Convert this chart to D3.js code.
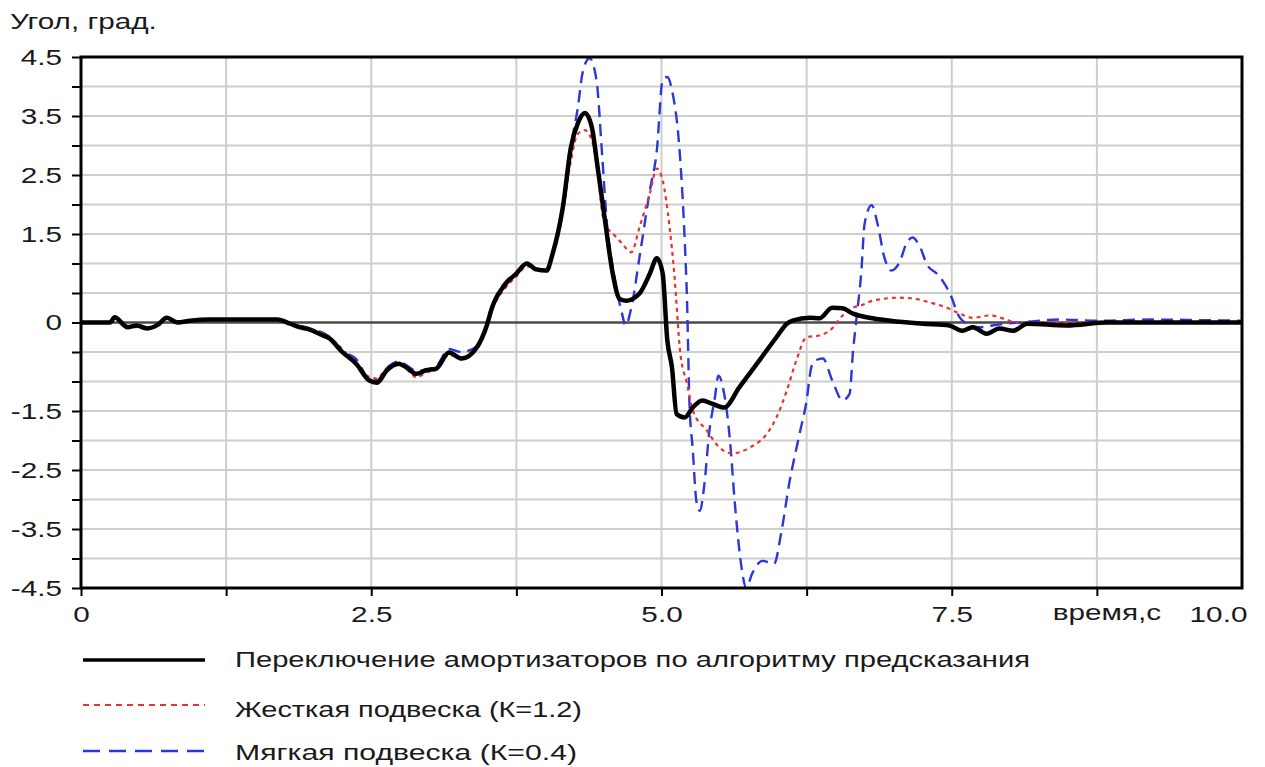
<!DOCTYPE html>
<html lang="ru">
<head>
<meta charset="UTF-8">
<title>Угол, град.</title>
<script src="https://d3js.org/d3.v7.min.js"></script>
<style>
    body { margin: 0; background: #fff; }
    svg { display: block; font-family: 'Liberation Sans', Arial, sans-serif; }
    .axis path { display: none; }
    .axis line { stroke: #000; stroke-width: 2; }
    .axis text { font-size: 22px; fill: #1a1a1a; }
    .grid { stroke: #cecece; stroke-width: 2; }
    .label { font-size: 22px; fill: #1a1a1a; }
</style>
</head>
<body>
<svg id="chart" width="1265" height="767"></svg>
<script>
// [time, angle]
var switchingData = [[0,0],[0.25,0],[0.29,0.09],[0.40,-0.08],[0.48,-0.05],[0.57,-0.1],[0.66,-0.04],[0.74,0.08],[0.83,0.0],[0.94,0.03],[1.11,0.05],[1.69,0.05],[1.80,-0.02],[1.88,-0.08],[1.97,-0.12],[2.06,-0.2],[2.14,-0.27],[2.25,-0.5],[2.37,-0.7],[2.48,-0.98],[2.55,-1.02],[2.63,-0.82],[2.74,-0.7],[2.80,-0.76],[2.89,-0.87],[2.97,-0.81],[3.06,-0.78],[3.17,-0.51],[3.28,-0.61],[3.41,-0.42],[3.49,-0.08],[3.54,0.25],[3.66,0.66],[3.75,0.83],[3.84,1.0],[3.92,0.9],[4.01,0.88],[4.06,1.15],[4.15,1.95],[4.22,2.97],[4.28,3.38],[4.34,3.55],[4.40,3.31],[4.45,2.63],[4.51,1.78],[4.58,0.83],[4.64,0.4],[4.70,0.37],[4.81,0.49],[4.90,0.83],[4.96,1.09],[5.01,0.83],[5.05,-0.3],[5.09,-0.76],[5.13,-1.55],[5.20,-1.61],[5.27,-1.44],[5.35,-1.32],[5.44,-1.38],[5.54,-1.44],[5.67,-1.1],[5.84,-0.65],[5.99,-0.25],[6.08,-0.02],[6.13,0.03],[6.28,0.08],[6.36,0.07],[6.47,0.25],[6.56,0.24],[6.65,0.15],[6.79,0.08],[6.97,0.03],[7.25,-0.02],[7.48,-0.05],[7.59,-0.14],[7.68,-0.08],[7.80,-0.19],[7.91,-0.1],[8.03,-0.14],[8.15,-0.02],[8.49,-0.05],[8.84,0],[10,0]];

var stiffData = [[0,0],[0.25,0.0],[0.29,0.07],[0.40,-0.06],[0.48,-0.08],[0.57,-0.12],[0.66,-0.02],[0.74,0.06],[0.83,0.01],[0.94,0.03],[1.11,0.04],[1.69,0.05],[1.80,-0.02],[1.97,-0.1],[2.14,-0.25],[2.25,-0.45],[2.37,-0.72],[2.48,-0.92],[2.55,-0.95],[2.63,-0.78],[2.74,-0.72],[2.80,-0.78],[2.89,-0.93],[2.97,-0.85],[3.06,-0.8],[3.17,-0.55],[3.28,-0.6],[3.41,-0.45],[3.49,-0.12],[3.54,0.2],[3.66,0.6],[3.75,0.78],[3.84,0.95],[3.92,0.92],[4.01,0.88],[4.06,1.1],[4.15,1.85],[4.22,2.75],[4.28,3.2],[4.34,3.26],[4.40,3.09],[4.45,2.55],[4.49,1.85],[4.53,1.62],[4.58,1.51],[4.66,1.34],[4.74,1.19],[4.81,1.61],[4.90,2.19],[4.96,2.61],[5.01,2.41],[5.07,1.61],[5.11,0.83],[5.16,-0.48],[5.22,-1.04],[5.27,-1.49],[5.39,-1.83],[5.50,-2.12],[5.61,-2.22],[5.76,-2.12],[5.91,-1.88],[5.99,-1.61],[6.08,-1.15],[6.16,-0.65],[6.25,-0.25],[6.36,-0.22],[6.47,-0.1],[6.56,0.12],[6.65,0.25],[6.72,0.29],[6.82,0.37],[7.05,0.42],[7.16,0.41],[7.31,0.34],[7.46,0.25],[7.57,0.15],[7.68,0.08],[7.83,0.12],[7.94,0.07],[8.06,0],[10,0]];

var softData = [[0,0],[0.25,0.01],[0.29,0.08],[0.40,-0.05],[0.48,-0.07],[0.57,-0.1],[0.66,-0.03],[0.74,0.07],[0.83,0.02],[0.94,0.03],[1.11,0.05],[1.69,0.05],[1.80,-0.01],[1.97,-0.1],[2.14,-0.24],[2.25,-0.48],[2.37,-0.62],[2.48,-0.95],[2.55,-0.98],[2.63,-0.78],[2.74,-0.66],[2.80,-0.72],[2.89,-0.82],[2.97,-0.8],[3.06,-0.74],[3.17,-0.45],[3.28,-0.5],[3.41,-0.4],[3.49,-0.05],[3.54,0.28],[3.66,0.7],[3.75,0.85],[3.84,1.0],[3.92,0.9],[4.01,0.88],[4.06,1.15],[4.15,2.0],[4.22,3.0],[4.28,3.65],[4.32,4.23],[4.38,4.48],[4.44,4.11],[4.49,2.8],[4.53,1.68],[4.59,0.83],[4.66,0.15],[4.69,-0.05],[4.74,0.25],[4.81,1.1],[4.90,2.24],[4.96,2.92],[5.01,4.11],[5.05,4.16],[5.09,3.94],[5.16,2.8],[5.20,1.39],[5.22,0.37],[5.24,-1.32],[5.27,-2.17],[5.30,-3.02],[5.33,-3.19],[5.37,-2.73],[5.41,-1.88],[5.46,-1.27],[5.49,-0.9],[5.54,-1.21],[5.59,-2.0],[5.63,-3.02],[5.69,-4.16],[5.73,-4.5],[5.78,-4.26],[5.87,-4.04],[5.97,-4.09],[6.03,-3.58],[6.10,-2.73],[6.19,-1.88],[6.25,-1.32],[6.29,-0.76],[6.32,-0.65],[6.39,-0.61],[6.47,-0.98],[6.56,-1.32],[6.62,-1.21],[6.65,-0.48],[6.68,0.08],[6.72,0.83],[6.75,1.68],[6.81,1.99],[6.86,1.68],[6.92,1.1],[6.98,0.88],[7.05,1.02],[7.11,1.34],[7.16,1.44],[7.22,1.31],[7.29,0.97],[7.37,0.83],[7.42,0.71],[7.50,0.42],[7.55,0.15],[7.63,-0.02],[7.74,-0.08],[7.85,-0.05],[7.97,-0.02],[8.09,0],[8.43,0.05],[8.78,0.03],[9.21,0.05],[9.66,0.04],[10,0.03]];

var yTickValues = [4.5, 3.5, 2.5, 1.5, 0, -1.5, -2.5, -3.5, -4.5];
var yTickLabels = ["4.5", "3.5", "2.5", "1.5", "0", "-1.5", "-2.5", "-3.5", "-4.5"];
var yGridValues = [-4, -3.5, -3, -2.5, -2, -1.5, -1, -0.5, 0.5, 1, 1.5, 2, 2.5, 3, 3.5, 4];
var xTickValues = [0, 2.5, 5, 7.5, 10];
var xTickLabels = ["0", "2.5", "5.0", "7.5", "10.0"];
var xGridValues = [1.25, 2.5, 3.75, 5, 6.25, 7.5, 8.75];
var legendLabels = ["Переключение амортизаторов по алгоритму предсказания", "Жесткая подвеска (К=1.2)", "Мягкая подвеска (К=0.4)"];

var svg = d3.select("#chart");
var plot = {left: 81, right: 1242, top: 57, bottom: 588};
var x = d3.scaleLinear().domain([0, 10]).range([plot.left, plot.right]);
var y = d3.scaleLinear().domain([-4.5, 4.5]).range([plot.bottom, plot.top]);

// the picture is stretched sideways, so text is too
var sx = 1.35;
function stretch(sel) {
    sel.each(function() {
        var t = d3.select(this), tx = +t.attr("x") || 0, ty = +t.attr("y") || 0;
        t.attr("transform", "translate(" + tx + "," + ty + ") scale(" + sx + ",1) translate(" + (-tx) + "," + (-ty) + ")");
    });
}

svg.append("rect").attr("width", 1265).attr("height", 767).attr("fill", "#fff");

// grid
svg.selectAll(".hgrid").data(yGridValues).enter().append("line").attr("class", "grid")
    .attr("x1", plot.left).attr("x2", plot.right).attr("y1", function(d) { return y(d); }).attr("y2", function(d) { return y(d); });
svg.selectAll(".vgrid").data(xGridValues).enter().append("line").attr("class", "grid")
    .attr("stroke-width", 1.5)
    .attr("x1", function(d) { return x(d); }).attr("x2", function(d) { return x(d); }).attr("y1", plot.top).attr("y2", plot.bottom);

// zero line
svg.append("line").attr("x1", plot.left).attr("x2", plot.right).attr("y1", y(0)).attr("y2", y(0))
    .attr("stroke", "#4a4a4a").attr("stroke-width", 2.5);

// ticks
svg.append("g").attr("class", "axis").attr("transform", "translate(" + plot.left + ",0)")
    .call(d3.axisLeft(y).tickValues(yGridValues.concat([4.5, 0, -4.5])).tickSize(9).tickFormat(""));
svg.append("g").attr("class", "axis").attr("transform", "translate(0," + plot.bottom + ")")
    .call(d3.axisBottom(x).tickValues(xGridValues.concat([0])).tickSize(8).tickFormat(""));

// labels
var yAxis = svg.append("g").attr("class", "axis").attr("transform", "translate(" + plot.left + ",0)")
    .call(d3.axisLeft(y).tickValues(yTickValues).tickSize(0).tickPadding(19)
        .tickFormat(function(d, i) { return yTickLabels[i]; }));
stretch(yAxis.selectAll("text"));

var xAxis = svg.append("g").attr("class", "axis").attr("transform", "translate(0," + plot.bottom + ")")
    .call(d3.axisBottom(x).tickValues(xTickValues).tickSize(0).tickPadding(18)
        .tickFormat(function(d, i) { return xTickLabels[i]; }));
xAxis.selectAll("text").filter(function(d) { return d === 10; }).attr("x", -24);
stretch(xAxis.selectAll("text"));

var xLabel = svg.append("text").attr("class", "label").attr("x", x(8.75) + 10).attr("y", 620)
    .attr("text-anchor", "middle").text("время,с");
stretch(xLabel);

var title = svg.append("text").attr("class", "label").attr("x", 10).attr("y", 29).text("Угол, град.");
stretch(title);

// curves
var line = d3.line().x(function(d) { return x(d[0]); }).y(function(d) { return y(d[1]); }).curve(d3.curveMonotoneX);

svg.append("path").datum(softData).attr("d", line).attr("fill", "none")
    .attr("stroke", "#2b37d8").attr("stroke-width", 2.4).attr("stroke-dasharray", "12,7");
svg.append("path").datum(stiffData).attr("d", line).attr("fill", "none")
    .attr("stroke", "#e8332f").attr("stroke-width", 2.2).attr("stroke-dasharray", "4,4");
svg.append("path").datum(switchingData).attr("d", line).attr("fill", "none")
    .attr("stroke", "#000").attr("stroke-width", 4.5);

// frame
svg.append("rect").attr("x", plot.left).attr("y", plot.top)
    .attr("width", plot.right - plot.left).attr("height", plot.bottom - plot.top)
    .attr("fill", "none").attr("stroke", "#000").attr("stroke-width", 3);

// legend
var legendStyles = [
    {stroke: "#000", width: 3.5, dash: null, y: 660, ty: 667, len: 795},
    {stroke: "#e8332f", width: 2, dash: "6,5", y: 705, ty: 717, len: 347},
    {stroke: "#2b37d8", width: 2.4, dash: "17,9", y: 751, ty: 760, len: 342}
];
legendLabels.forEach(function(label, i) {
    var s = legendStyles[i];
    svg.append("line").attr("x1", 83).attr("x2", 205).attr("y1", s.y).attr("y2", s.y)
        .attr("stroke", s.stroke).attr("stroke-width", s.width).attr("stroke-dasharray", s.dash);
    svg.append("text").attr("class", "label").attr("x", 235).attr("y", s.ty)
        .attr("textLength", s.len).attr("lengthAdjust", "spacingAndGlyphs").text(label);
});
</script>
</body>
</html>
